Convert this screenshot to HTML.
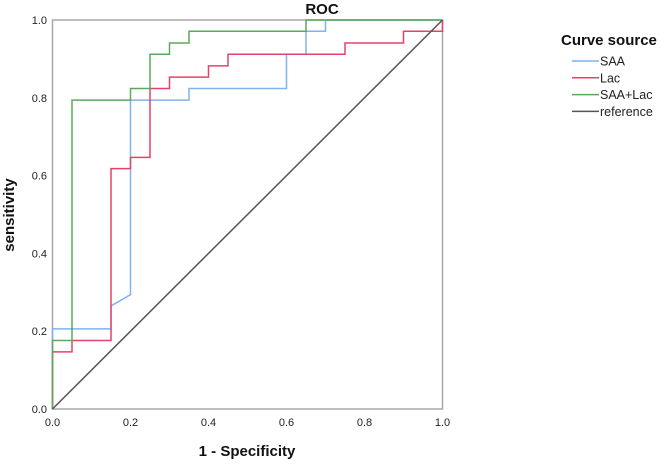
<!DOCTYPE html>
<html><head><meta charset="utf-8"><style>
body{margin:0;background:#fff;font-family:"Liberation Sans",sans-serif}
</style></head><body>
<svg id="chart" width="669" height="463" xmlns="http://www.w3.org/2000/svg" font-family="Liberation Sans, sans-serif">
<g id="axes"></g><g id="series"></g><g id="legend"></g>
</svg>
<script>
const xTicks=[0,0.2,0.4,0.6,0.8,1.0];
const yTicks=[0,0.2,0.4,0.6,0.8,1.0];
const seriesNames=["SAA","Lac","SAA+Lac","reference"];
const seriesColors=["#7fb2ef","#e5426a","#5aaa5a","#555555"];
const saaX=[0,0,0.15,0.15,0.2,0.2,0.35,0.35,0.6,0.6,0.65,0.65,0.7,0.7,1];
const saaY=[0,0.206,0.206,0.265,0.294,0.794,0.794,0.824,0.824,0.912,0.912,0.971,0.971,1,1];
const lacX=[0,0,0.05,0.05,0.15,0.15,0.2,0.2,0.25,0.25,0.3,0.3,0.4,0.4,0.45,0.45,0.75,0.75,0.9,0.9,1,1];
const lacY=[0,0.147,0.147,0.176,0.176,0.618,0.618,0.647,0.647,0.824,0.824,0.853,0.853,0.882,0.882,0.912,0.912,0.941,0.941,0.971,0.971,1];
const comboX=[0,0,0.05,0.05,0.2,0.2,0.25,0.25,0.3,0.3,0.35,0.35,0.65,0.65,1];
const comboY=[0,0.176,0.176,0.794,0.794,0.824,0.824,0.912,0.912,0.941,0.941,0.971,0.971,1,1];
const refX=[0,1];
const refY=[0,1];

const L=52.5,R=442.5,T=20,B=409;
const sx=v=>L+v*(R-L), sy=v=>B-v*(B-T);
const NS="http://www.w3.org/2000/svg";
function mk(tag,parent,attrs){const e=document.createElementNS(NS,tag);for(const k in attrs)e.setAttribute(k,attrs[k]);parent.appendChild(e);return e;}
const axes=document.getElementById('axes');
const frame=mk('rect',axes,{x:L,y:T,width:R-L,height:B-T,fill:'none',stroke:'#a8a8a8','stroke-width':1.5});


xTicks.forEach(v=>{const t=mk('text',axes,{x:sx(v),y:426,'text-anchor':'middle','font-size':11,fill:'#222'});t.textContent=v.toFixed(1);

});
yTicks.forEach(v=>{const t=mk('text',axes,{x:47,y:sy(v)+4,'text-anchor':'end','font-size':11,fill:'#222'});t.textContent=v.toFixed(1);

});
let t=mk('text',axes,{x:247,y:456,'text-anchor':'middle','font-size':15,'font-weight':'bold',fill:'#111'});t.textContent='1 - Specificity';


t=mk('text',axes,{x:14,y:215,'text-anchor':'middle','font-size':15,'font-weight':'bold',fill:'#111',transform:'rotate(-90 14 215)'});t.textContent='sensitivity';


t=mk('text',axes,{x:322,y:14,'text-anchor':'middle','font-size':15,'font-weight':'bold',fill:'#111'});t.textContent='ROC';



const ser=document.getElementById('series');
const data=[[saaX,saaY],[lacX,lacY],[comboX,comboY],[refX,refY]];
const names=['saa-curve','lac-curve','saa-lac-curve','reference-line'];
data.forEach((d,i)=>{const pts=d[0].map((x,j)=>sx(x)+','+sy(d[1][j])).join(' ');
const p=mk('polyline',ser,{points:pts,fill:'none',stroke:seriesColors[i],'stroke-width':1.5});

});

const lg=document.getElementById('legend');
t=mk('text',lg,{x:561,y:45,'font-size':15,'font-weight':'bold',fill:'#111'});t.textContent='Curve source';


seriesNames.forEach((n,i)=>{const y=61+i*16.8;
const g=mk('g',lg,{});


mk('line',g,{x1:572,x2:599,y1:y,y2:y,stroke:seriesColors[i],'stroke-width':1.5});
const tx=mk('text',g,{x:600,y:y+4.5,'font-size':12.5,fill:'#222'});tx.textContent=n;});
</script>
</body></html>
